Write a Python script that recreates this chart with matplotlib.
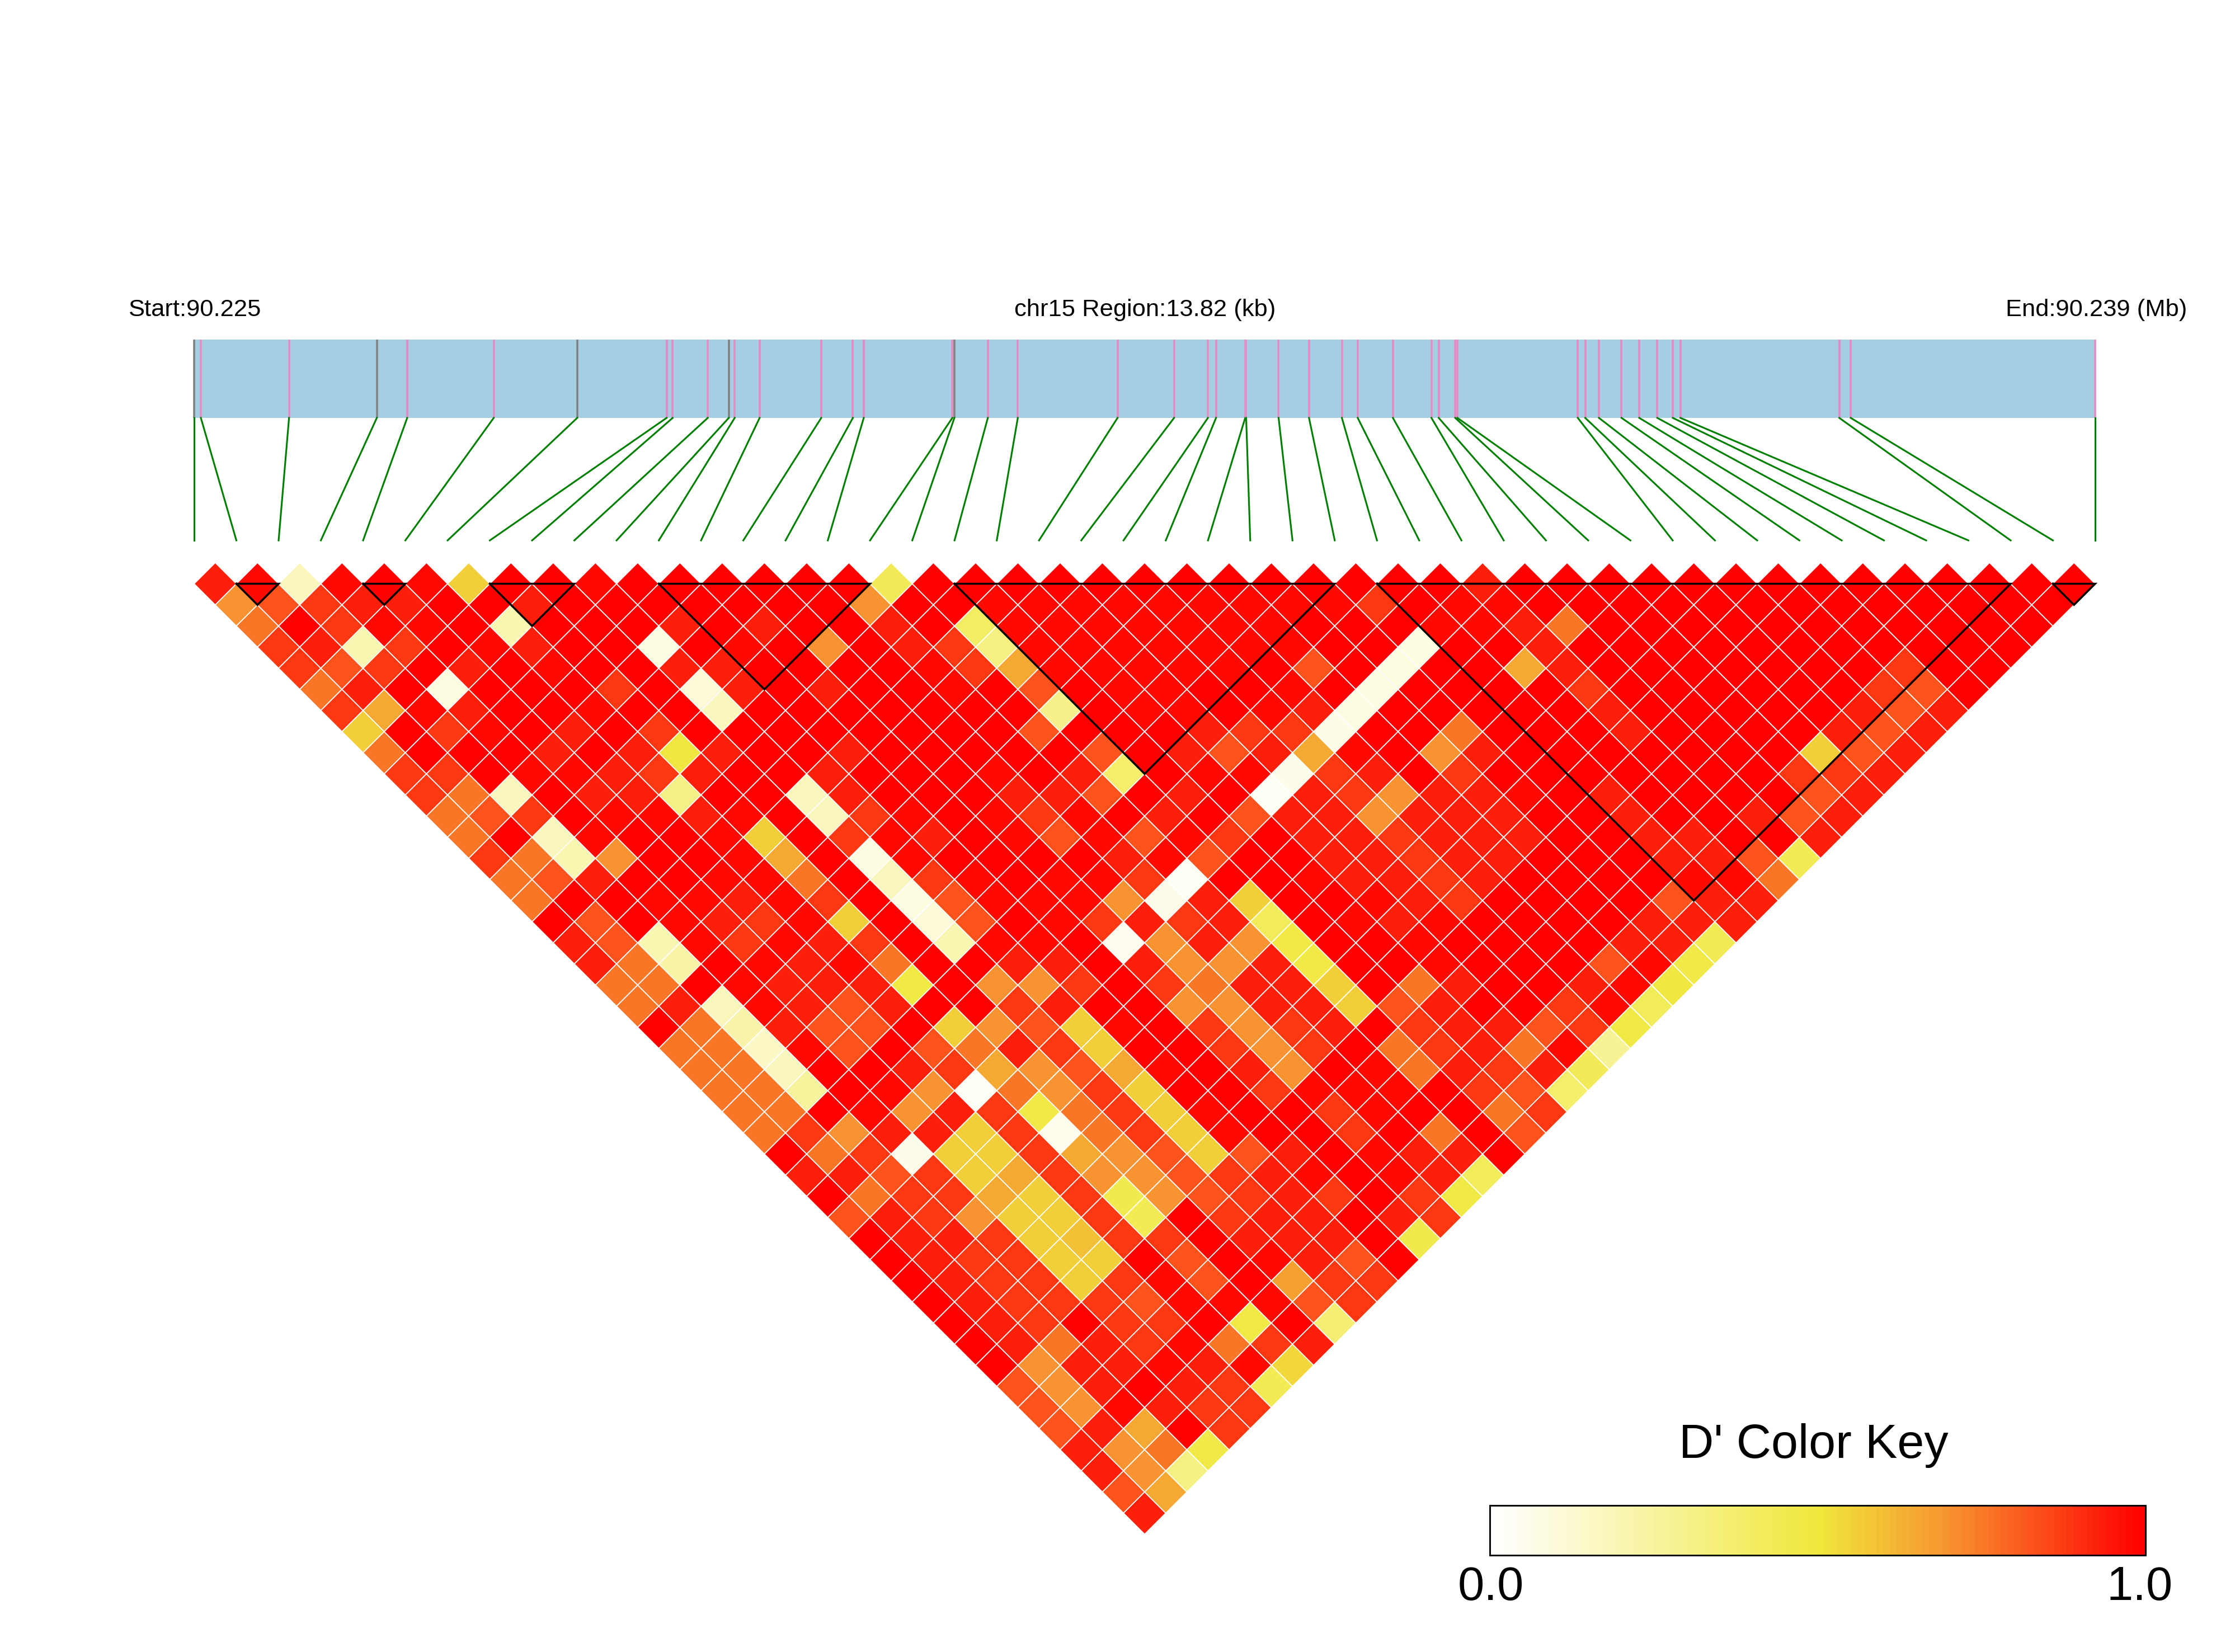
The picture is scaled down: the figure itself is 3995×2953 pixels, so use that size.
import matplotlib
matplotlib.use("Agg")
import matplotlib.pyplot as plt
import numpy as np
from matplotlib.collections import PolyCollection
from matplotlib.colors import LinearSegmentedColormap
from matplotlib.patches import Rectangle

plt.rcParams['font.family'] = ['Liberation Sans', 'DejaVu Sans']

# SNP positions, kb from the region start
snp_kb = [0.000, 0.049, 0.690, 1.328, 1.549, 2.178, 2.785, 3.435, 3.479, 3.734,
          3.887, 3.930, 4.111, 4.559, 4.789, 4.868, 5.512, 5.527, 5.770, 5.988,
          6.713, 7.124, 7.370, 7.429, 7.641, 7.648, 7.884, 8.105, 8.344, 8.459,
          8.715, 8.995, 9.048, 9.168, 9.184, 10.059, 10.113, 10.213, 10.377, 10.506,
          10.637, 10.750, 10.805, 11.960, 12.043, 13.820]
region_kb = 13.82
gray_snps = [0, 3, 6, 10, 17]

# haplotype blocks (first SNP, last SNP)
blocks = [(1, 2), (4, 5), (7, 9), (11, 16), (18, 27), (28, 43), (44, 45)]

# D' shades used below
shade = {'f': .98, 's': .935, 't': .885, 'u': .83, 'o': .76, 'a': .70, 'b': .65, 'c': .56,
         'p': .17}

# D' per row of the triangle (row = distance between SNPs - 1). Each token is
# "i+j : value"; pairs that are not listed have D' = 1.0
dprime_rows = [
 "1:s 3:f 5:p 7:f 11:f 13:c 19:f 33:.43 61:s",
 "2:a 4:u 6:t 8:s 10:s 16:s 32:a 38:f 40:f 42:f 44:f 46:f 48:f 50:f 52:f 54:f 56:t 60:f 62:f",
 "3:o 7:t 9:f 11:f 15:.2 23:s 27:s 33:s 37:.4 39:f 41:f 43:f 45:f 47:f 49:f 51:f 59:f 61:f 63:s 65:o",
 "4:t 6:s 8:.2 10:t 14:f 16:s 22:.08 26:f 30:a 34:s 36:t 38:.33 40:f 42:f 44:f 46:f 48:f 50:f 52:f 58:.08 64:s",
 "5:t 7:u 9:t 13:s 17:f 23:s 25:s 35:f 37:t 39:b 41:f 43:f 45:f 47:f 49:f 53:u 57:.08 63:b 65:s 81:t",
 "6:o 8:s 12:.08 20:t 24:.1 26:s 30:s 36:f 40:u 44:f 46:f 52:f 56:.08 66:t 80:t 82:u",
 "7:t 9:b 11:f 13:s 19:f 25:p 41:.3 45:f 47:f 51:f 53:s 55:.08 67:s 79:s 81:u 83:s",
 "8:c 12:t 14:f 18:s 22:t 40:u 48:s 50:t 52:t 54:.07 68:s 60:o 78:s 80:u 82:s",
 "9:o 17:s 21:s 23:.49 25:s 31:s 43:u 47:s 49:u 51:s 53:b 55:f 59:a 61:s 77:c 79:u 81:s",
 "10:t 12:t 16:f 18:f 20:s 22:t 24:s 30:s 38:f 42:s 44:.38 48:f 50:f 52:.06 54:t 56:s 60:t 76:t 78:t 80:s",
 "11:t 13:o 15:p 19:s 21:s 23:.32 29:p 31:s 39:s 41:s 43:u 47:s 51:.03 53:s 55:t 57:a 59:s 61:s 63:f 67:s 77:u 79:s",
 "12:o 14:u 16:t 20:f 22:f 24:s 26:f 30:p 32:t 34:f 38:f 40:t 42:f 46:s 50:u 52:s 54:s 56:a 58:s 60:s 62:s 68:s 74:s 76:u 78:s",
 "13:o 17:p 19:f 25:f 27:c 31:t 33:f 35:s 39:f 41:u 43:f 45:u 47:f 49:t 53:s 55:s 57:t 59:s 61:s 63:s 69:s 71:s 77:s",
 "14:t 16:o 18:.2 20:a 26:f 28:b 32:.08 34:f 44:s 46:f 48:u 54:s 56:s 58:t 60:s 62:s 70:s 72:s 74:u 76:.44",
 "15:o 17:u 19:s 25:f 27:f 29:o 33:p 35:t 37:f 41:f 43:f 45:t 47:.03 53:f 55:s 57:s 59:t 61:s 71:f 73:f 75:o",
 "16:o 22:f 24:f 26:s 28:f 30:t 34:.08 36:u 38:f 40:f 42:f 44:a 46:.06 48:s 50:c 56:f 58:s 60:t 70:u 72:s 74:s",
 "19:u 23:f 25:s 27:t 29:f 31:c 35:.1 37:u 41:f 43:t 45:s 47:t 49:s 51:.42 55:f 57:s 59:f 69:s 71:s 73:s",
 "18:s 20:u 22:.2 24:f 26:t 28:f 30:s 32:t 36:.2 38:f 40:f 44:.04 46:a 48:s 50:a 52:.48 58:f 68:s 70:s 72:.44",
 "19:s 21:o 23:.23 27:f 29:s 31:f 33:o 39:s 41:s 45:s 47:a 49:a 51:s 53:.48 59:f 67:u 69:f 71:.47",
 "20:o 22:o 26:f 28:s 30:s 32:s 34:.48 38:a 40:a 42:t 46:t 48:o 50:s 52:s 54:c 58:o 60:s 66:s 68:f 70:.49",
 "21:o 23:s 25:p 27:f 29:s 31:u 33:s 39:t 41:s 47:a 49:a 51:s 53:s 55:c 57:u 59:s 65:t 67:f 69:.42",
 "24:o 26:.22 28:s 30:u 32:u 36:c 38:a 40:u 42:c 44:f 48:t 50:a 52:t 54:s 58:t 60:s 62:s 64:u 66:t 68:.48",
 "23:o 25:o 27:.15 29:f 31:u 35:u 37:o 39:s 41:t 43:c 49:t 51:a 53:t 57:o 59:t 61:s 63:o 65:f 67:.27",
 "24:o 26:o 28:p 34:s 36:t 38:b 40:a 42:u 44:b 46:f 50:s 52:a 56:f 58:o 60:s 62:t 64:s 66:.43",
 "25:o 27:o 29:.25 33:f 35:a 37:.03 39:o 41:a 43:t 45:c 51:t 53:f 55:f 57:f 61:t 63:u 65:.38",
 "26:o 28:o 32:f 34:a 36:s 38:t 40:.47 42:o 44:t 46:c 48:f 54:t 56:f 62:o 64:t",
 "27:o 29:t 31:a 33:s 35:s 37:c 39:t 41:.05 43:o 45:t 47:c 49:f 55:t 59:o 63:u",
 "30:o 32:t 34:.06 36:c 38:c 40:t 42:b 44:a 46:u 48:c 50:u 52:s 56:f 58:s 60:s",
 "29:s 31:s 33:u 35:t 37:c 39:b 41:t 43:a 45:a 47:u 49:t 51:s 53:f 57:f 59:s 61:.42",
 "32:o 34:t 36:t 38:b 40:c 42:t 44:.45 46:a 48:u 50:t 52:s 54:t 58:t 60:.48",
 "31:u 33:s 35:t 37:a 39:c 41:c 43:t 45:.44 49:t 51:s 53:s 57:s 59:t",
 "34:s 36:s 38:t 40:c 42:.59 44:t 46:t 50:s 52:s 54:s 58:.46",
 "35:s 37:t 39:t 41:c 43:c 47:u 51:f 53:s 55:u",
 "36:s 38:t 40:t 42:c 44:t 46:f 48:u 52:.67 54:t 56:t",
 "37:s 39:t 41:t 43:t 45:u 47:f 49:f 51:f 53:u 55:t",
 "38:s 40:t 44:t 46:t 50:.48 54:.36",
 "39:s 41:o 43:s 45:t 47:f 49:o 51:t 53:s",
 "40:a 42:s 44:s 46:f 48:s 50:f 52:.54",
 "39:u 41:a 43:s 47:s 49:t 51:.44",
 "40:u 42:a 44:f 46:s 48:t 50:t",
 "41:u 43:s 45:b 49:t",
 "42:s 44:a 46:o 48:.47",
 "43:s 45:a 47:.33",
 "44:u 46:b",
 "45:s",
]

key_min, key_max = 0.0, 1.0
key_steps = 100
cmap = LinearSegmentedColormap.from_list(
    'dprime', [(0.0, '#FFFFFF'), (0.5, '#F0E83C'), (0.7, '#F79430'), (1.0, '#FF0000')], N=256)

n_snp = len(snp_kb)
D = np.full((n_snp, n_snp), np.nan)
for i in range(n_snp - 1):
    D[i, i + 1:] = 1.0
for r, line in enumerate(dprime_rows):
    for tok in line.split():
        m, v = tok.split(':')
        m = int(m)
        i = (m - r - 1) // 2
        D[i, i + r + 1] = shade[v] if v in shade else float(v)

# page layout, pixels
W, H = 3995, 2953
fig = plt.figure(figsize=(W / 300, H / 300), dpi=300)
ax = fig.add_axes([0, 0, 1, 1])
ax.set_xlim(0, W)
ax.set_ylim(H, 0)
ax.axis('off')

left, right = 347.0, 3745.0
pitch = (right - left) / (n_snp - 1)
half = pitch / 2
top0 = 1043.5
bar_top, bar_bot = 607, 747
link_bot = 966


def cell_x(i, j):
    return left + (i + j) * half


def cell_y(i, j):
    return top0 + (j - i - 1) * half


polys, vals = [], []
for i in range(n_snp - 1):
    for j in range(i + 1, n_snp):
        cx, cy = cell_x(i, j), cell_y(i, j)
        polys.append([(cx - half, cy), (cx, cy - half), (cx + half, cy), (cx, cy + half)])
        vals.append(D[i, j])
ax.add_collection(PolyCollection(polys, array=np.array(vals), cmap=cmap, clim=(0, 1),
                                 edgecolors='white', linewidths=0.42, zorder=2))

# haplotype block outlines
for a, b in blocks:
    xs = [left + a * pitch, left + b * pitch, cell_x(a, b), left + a * pitch]
    ys = [top0, top0, top0 + (b - a) * half, top0]
    ax.plot(xs, ys, color='black', lw=0.85, zorder=3, solid_joinstyle='miter')

# gene bar, SNP ticks and links
ax.add_patch(Rectangle((left, bar_top), right - left, bar_bot - bar_top,
                       facecolor='#A6CEE3', edgecolor='none', zorder=1))
bar_x = [left + k / region_kb * (right - left) for k in snp_kb]
for k, x in enumerate(bar_x):
    ax.plot([x, x], [bar_top, bar_bot], color='#808080' if k in gray_snps else '#E78AC3',
            lw=0.85, zorder=2, solid_capstyle='butt')
    ax.plot([x, left + k * pitch], [bar_bot, link_bot], color='#008000', lw=0.75, zorder=2)

# labels
ax.text(229, 554, 'Start:90.225', fontsize=10.45, ha='left', va='center')
ax.text(2047, 554, 'chr15 Region:13.82 (kb)', fontsize=10.45, ha='center', va='center')
ax.text(3909, 554, 'End:90.239 (Mb)', fontsize=10.45, ha='right', va='center')

# colour key
kx0, kx1, ky0, ky1 = 2663, 3835, 2691, 2780
edges = np.linspace(kx0, kx1, key_steps + 1)
ax.pcolormesh(edges, [ky0, ky1], np.linspace(key_min, key_max, key_steps).reshape(1, -1),
              cmap=cmap, vmin=0, vmax=1, zorder=2)
ax.add_patch(Rectangle((kx0, ky0), kx1 - kx0, ky1 - ky0, fill=False, edgecolor='black', lw=0.7, zorder=3))
ax.text(3242, 2584, "D' Color Key", fontsize=20.7, ha='center', va='center')
ax.text(2665, 2838, f'{key_min:.1f}', fontsize=20.4, ha='center', va='center')
ax.text(3825, 2838, f'{key_max:.1f}', fontsize=20.4, ha='center', va='center')

fig.savefig('out.png', dpi=300, facecolor='white')
